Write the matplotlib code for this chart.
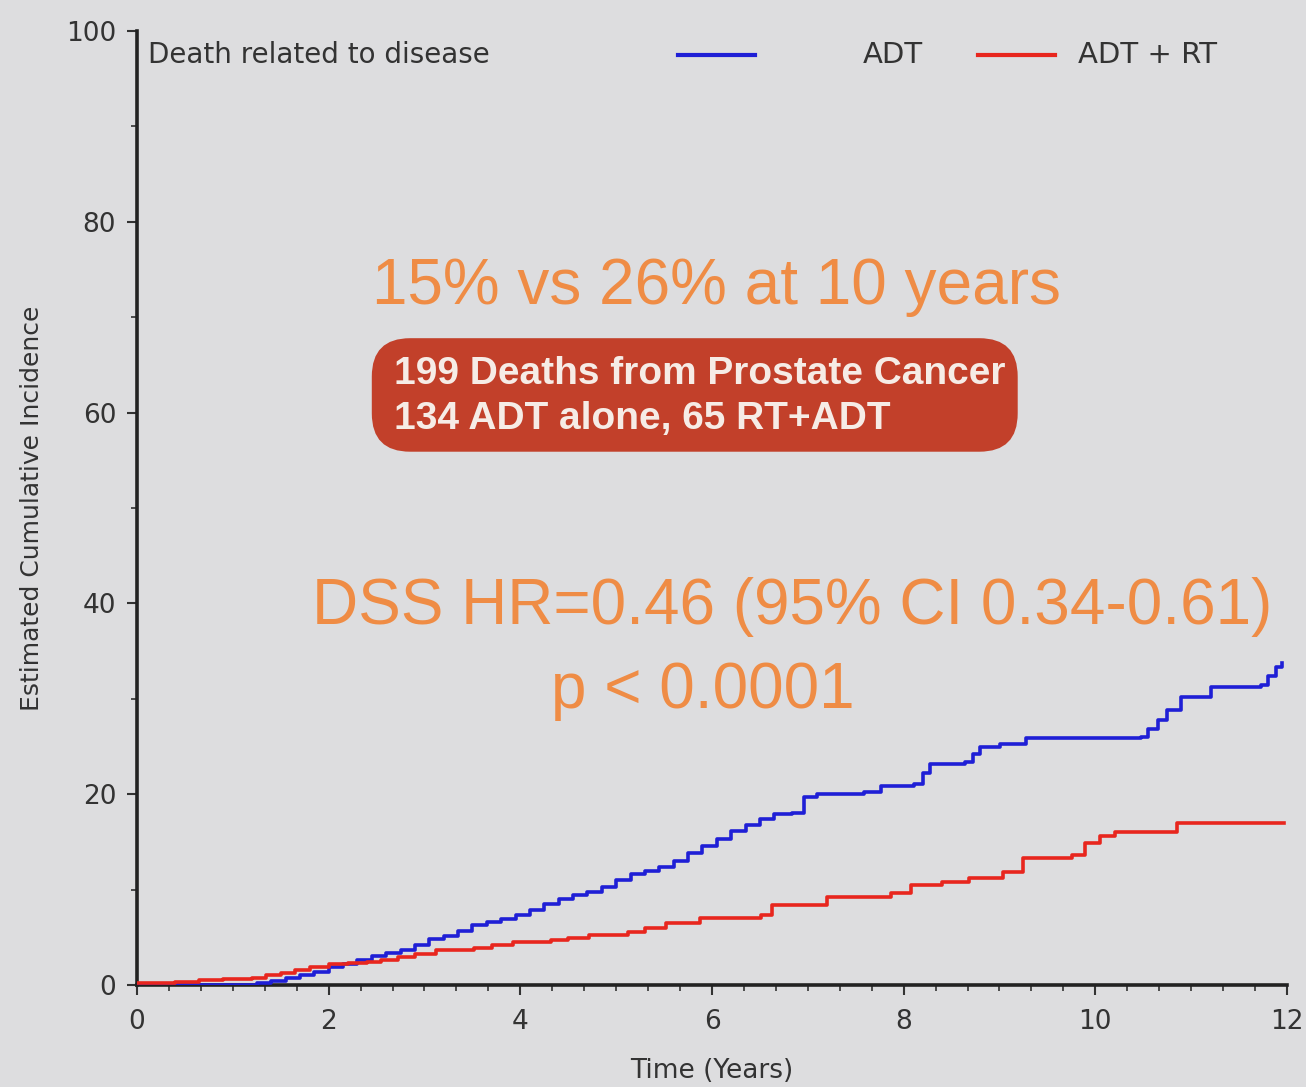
import matplotlib
matplotlib.use("Agg")
import matplotlib.pyplot as plt
from matplotlib.patches import FancyBboxPatch
from matplotlib.ticker import MultipleLocator

# ---- data ----
adt_t = [0, 1.25, 1.4, 1.55, 1.7, 1.85, 2.0, 2.15, 2.3, 2.45, 2.6, 2.75, 2.9, 3.05, 3.2,
         3.35, 3.5, 3.65, 3.8, 3.95, 4.1, 4.25, 4.4, 4.55, 4.7, 4.85, 5.0, 5.15, 5.3, 5.45,
         5.6, 5.75, 5.9, 6.05, 6.2, 6.35, 6.5, 6.65, 6.83, 6.96, 7.1, 7.59, 7.76, 8.11, 8.2,
         8.28, 8.64, 8.72, 8.80, 9.0, 9.28, 10.48, 10.55, 10.65, 10.75, 10.89, 11.21, 11.73,
         11.8, 11.89, 11.95]
adt_v = [0, 0.2, 0.4, 0.7, 1.0, 1.4, 1.9, 2.2, 2.6, 3.0, 3.4, 3.7, 4.2, 4.8, 5.1,
         5.7, 6.3, 6.6, 6.9, 7.3, 7.9, 8.5, 9.0, 9.4, 9.7, 10.3, 11.0, 11.6, 12.0, 12.4,
         13.0, 13.8, 14.6, 15.3, 16.1, 16.8, 17.4, 17.9, 18.0, 19.7, 20.0, 20.2, 20.9, 21.1, 22.2,
         23.2, 23.4, 24.2, 24.9, 25.3, 25.9, 26.0, 26.8, 27.8, 28.8, 30.2, 31.2, 31.4,
         32.4, 33.3, 33.8]

adtrt_t = [0, 0.4, 0.65, 0.9, 1.2, 1.35, 1.5, 1.65, 1.8, 2.0, 2.2, 2.4, 2.55, 2.72, 2.9,
           3.12, 3.52, 3.7, 3.92, 4.32, 4.5, 4.72, 5.12, 5.3, 5.52, 5.87, 6.51, 6.63, 7.04,
           7.2, 7.87, 8.08, 8.4, 8.68, 9.04, 9.24, 9.76, 9.89, 10.05, 10.2, 10.85, 11.97]
adtrt_v = [0.2, 0.3, 0.5, 0.6, 0.7, 1.0, 1.3, 1.6, 1.9, 2.2, 2.3, 2.4, 2.6, 2.9, 3.3,
           3.7, 3.9, 4.2, 4.5, 4.7, 4.9, 5.2, 5.6, 6.0, 6.5, 7.0, 7.3, 8.4, 8.4,
           9.2, 9.6, 10.5, 10.8, 11.2, 11.8, 13.3, 13.6, 14.9, 15.6, 16.0, 17.0, 17.0]

x_ticks = [0, 2, 4, 6, 8, 10, 12]
y_ticks = [0, 20, 40, 60, 80, 100]
series_labels = ["ADT", "ADT + RT"]

# ---- style ----
BG = "#dddddf"
BLUE = "#1f1fd6"
RED = "#e8261e"
ORANGE = "#ef8c45"
BOX = "#c2402a"
TXT = "#333333"
BIG = ["Liberation Sans", "DejaVu Sans"]
SMALL = ["DejaVu Sans"]
plt.rcParams["font.family"] = SMALL

fig = plt.figure(figsize=(13.06, 10.87), dpi=100, facecolor=BG)
ax = fig.add_axes([137/1306, 1-985/1087, (1287-137)/1306, (985-31)/1087])
ax.set_facecolor(BG)

ax.step(adt_t, adt_v, where="post", color=BLUE, lw=2.6, zorder=3)
ax.step(adtrt_t, adtrt_v, where="post", color=RED, lw=2.6, zorder=3)

ax.set_xlim(0, 12)
ax.set_ylim(0, 100)
ax.set_xticks(x_ticks)
ax.set_yticks(y_ticks)
ax.xaxis.set_minor_locator(MultipleLocator(1/3))
ax.yaxis.set_minor_locator(MultipleLocator(10))
for s in ["top", "right"]:
    ax.spines[s].set_visible(False)
for s in ["left", "bottom"]:
    ax.spines[s].set_linewidth(2.6)
    ax.spines[s].set_color("#222222")
ax.tick_params(axis="both", which="major", length=7, width=1.5, color="#333333",
               labelsize=19, labelcolor=TXT, direction="out")
ax.tick_params(axis="both", which="minor", length=4, width=1.2, color="#333333", direction="out")
ax.tick_params(axis="x", pad=10)
ax.tick_params(axis="y", pad=8)

ax.set_xlabel("Time (Years)", fontsize=19, color=TXT, labelpad=17)
ax.set_ylabel("Estimated Cumulative Incidence", fontsize=18, color=TXT, va="center")
ax.yaxis.set_label_coords(-0.091, 0.5)

ax.text(0.01, 0.975, "Death related to disease", transform=ax.transAxes, fontsize=20,
        color=TXT, va="center", ha="left")

# legend (manual)
ly = 0.975
ax.plot([(678-137)/1150, (755-137)/1150], [ly, ly], transform=ax.transAxes, color=BLUE,
        lw=3, clip_on=False)
ax.text((863-137)/1150, ly, series_labels[0], transform=ax.transAxes, fontsize=21, color=TXT,
        va="center", ha="left")
ax.plot([(978-137)/1150, (1055-137)/1150], [ly, ly], transform=ax.transAxes, color=RED,
        lw=3, clip_on=False)
ax.text((1078-137)/1150, ly, series_labels[1], transform=ax.transAxes, fontsize=21, color=TXT,
        va="center", ha="left")

# annotations
ax.text(6.05, 73.2, "15% vs 26% at 10 years", fontsize=46, color=ORANGE, ha="center",
        va="center", family=BIG)
box = FancyBboxPatch((2.45, 55.9), 6.74, 11.9, boxstyle="round,pad=0,rounding_size=0.4",
                     mutation_aspect=95.8/9.54, fc=BOX, ec="none", zorder=2)
ax.add_patch(box)
ax.text(2.68, 64.0, "199 Deaths from Prostate Cancer", fontsize=28, fontweight="bold",
        color="#f6ece6", ha="left", va="center", zorder=4, family=BIG)
ax.text(2.68, 59.3, "134 ADT alone, 65 RT+ADT", fontsize=28, fontweight="bold",
        color="#f6ece6", ha="left", va="center", zorder=4, family=BIG)
ax.text(6.84, 39.6, "DSS HR=0.46 (95% CI 0.34-0.61)", fontsize=46, color=ORANGE,
        ha="center", va="center", family=BIG)
ax.text(5.9, 30.8, "p < 0.0001", fontsize=46, color=ORANGE, ha="center", va="center",
        family=BIG)

fig.savefig("out.png", dpi=100, facecolor=BG)
